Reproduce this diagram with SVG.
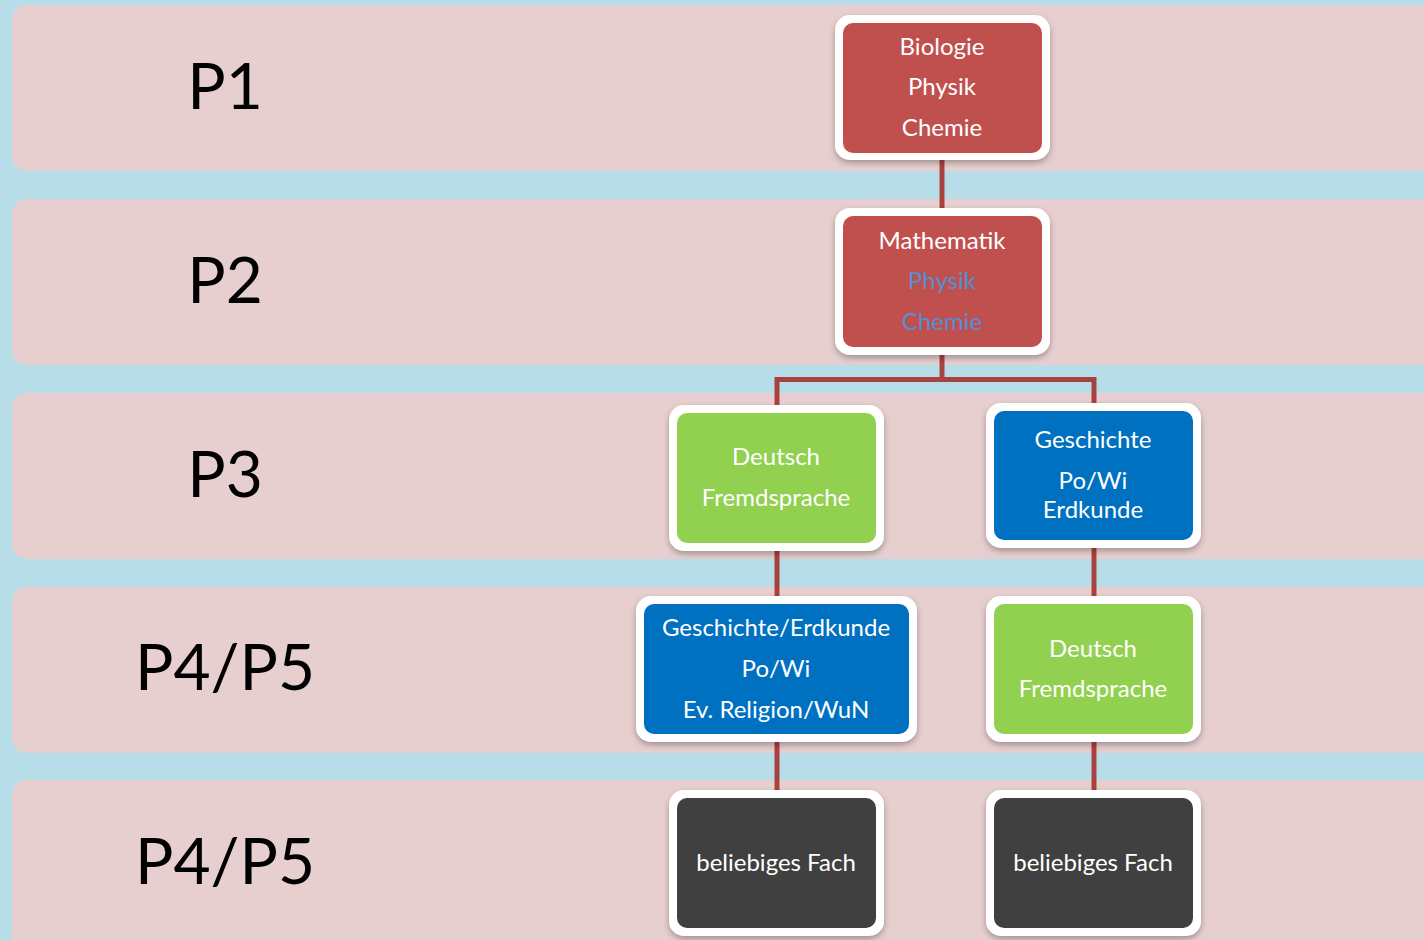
<svg xmlns="http://www.w3.org/2000/svg" width="1424" height="940" viewBox="0 0 1424 940">
<defs>
<style>
.band{fill:#E7CFCF}
.lbl{font-family:Lato,"Liberation Sans",sans-serif;font-size:64px;fill:#000;text-anchor:middle}
.frame{fill:#FFFFFF;filter:url(#sh)}
.t{font-family:Lato,"Liberation Sans",sans-serif;font-size:24px;fill:#FFFFFF;text-anchor:middle}
.tb{fill:#558ED5}
.red{fill:#C0504D}.green{fill:#92D050}.blue{fill:#0070C0}.dark{fill:#404040}
.conn{stroke:#A8423F;stroke-width:5;fill:none}
</style>
<filter id="sh" x="-10%" y="-10%" width="120%" height="130%">
<feDropShadow dx="0" dy="3" stdDeviation="3" flood-color="#000" flood-opacity="0.3"/>
</filter>
</defs>
<rect x="0" y="0" width="1424" height="940" fill="#B7DEE8"/>
<g id="bands">
<rect class="band" x="12" y="5" width="1440" height="166" rx="15"/>
<rect class="band" x="12" y="199" width="1440" height="166" rx="15"/>
<rect class="band" x="12" y="393" width="1440" height="166" rx="15"/>
<rect class="band" x="12" y="587" width="1440" height="166" rx="15"/>
<rect class="band" x="12" y="780" width="1440" height="180" rx="15"/>
<text class="lbl" x="225" y="109">P1</text>
<text class="lbl" x="225" y="303">P2</text>
<text class="lbl" x="225" y="497">P3</text>
<text class="lbl" x="225" y="690">P4/P5</text>
<text class="lbl" x="225" y="884">P4/P5</text>
</g>
<g id="connectors">
<line class="conn" x1="942" y1="155" x2="942" y2="212"/>
<polyline class="conn" points="942,350 942,379.5 777,379.5 777,408"/>
<polyline class="conn" points="942,379.5 1094,379.5 1094,406"/>
<line class="conn" x1="777" y1="548" x2="777" y2="599"/>
<line class="conn" x1="1094" y1="545" x2="1094" y2="599"/>
<line class="conn" x1="777" y1="739" x2="777" y2="793"/>
<line class="conn" x1="1094" y1="739" x2="1094" y2="793"/>
</g>
<g id="node-p1">
<rect class="frame" x="835" y="15" width="215" height="145" rx="15"/>
<rect class="red" x="843" y="23" width="199" height="130" rx="10"/>
<text class="t" x="942" y="55">Biologie</text>
<text class="t" x="942" y="95">Physik</text>
<text class="t" x="942" y="136">Chemie</text>
</g>
<g id="node-p2">
<rect class="frame" x="835" y="208" width="215" height="147" rx="15"/>
<rect class="red" x="843" y="216" width="199" height="131" rx="10"/>
<text class="t" x="942" y="249">Mathematik</text>
<text class="t tb" x="942" y="289">Physik</text>
<text class="t tb" x="942" y="330">Chemie</text>
</g>
<g id="node-p3-left">
<rect class="frame" x="669" y="405" width="215" height="146" rx="15"/>
<rect class="green" x="677" y="413" width="199" height="130" rx="10"/>
<text class="t" x="776" y="465">Deutsch</text>
<text class="t" x="776" y="506">Fremdsprache</text>
</g>
<g id="node-p3-right">
<rect class="frame" x="986" y="403" width="215" height="145" rx="15"/>
<rect class="blue" x="994" y="411" width="199" height="129" rx="10"/>
<text class="t" x="1093" y="448">Geschichte</text>
<text class="t" x="1093" y="489">Po/Wi</text>
<text class="t" x="1093" y="518">Erdkunde</text>
</g>
<g id="node-p4-left">
<rect class="frame" x="636" y="596" width="281" height="146" rx="15"/>
<rect class="blue" x="644" y="604" width="265" height="130" rx="10"/>
<text class="t" x="776" y="636">Geschichte/Erdkunde</text>
<text class="t" x="776" y="677">Po/Wi</text>
<text class="t" x="776" y="718">Ev. Religion/WuN</text>
</g>
<g id="node-p4-right">
<rect class="frame" x="986" y="596" width="215" height="146" rx="15"/>
<rect class="green" x="994" y="604" width="199" height="130" rx="10"/>
<text class="t" x="1093" y="657">Deutsch</text>
<text class="t" x="1093" y="697">Fremdsprache</text>
</g>
<g id="node-p5-left">
<rect class="frame" x="669" y="790" width="215" height="146" rx="15"/>
<rect class="dark" x="677" y="798" width="199" height="130" rx="10"/>
<text class="t" x="776" y="871">beliebiges Fach</text>
</g>
<g id="node-p5-right">
<rect class="frame" x="986" y="790" width="215" height="146" rx="15"/>
<rect class="dark" x="994" y="798" width="199" height="130" rx="10"/>
<text class="t" x="1093" y="871">beliebiges Fach</text>
</g>
</svg>
